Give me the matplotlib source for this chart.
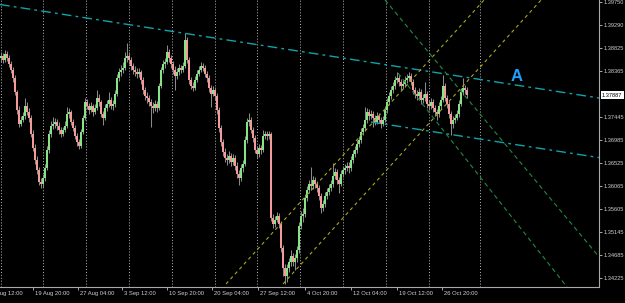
import matplotlib
matplotlib.use('Agg')
import matplotlib.pyplot as plt
import numpy as np
from matplotlib.transforms import blended_transform_factory

# ---------------- OHLC data (H4 bars) ----------------
opens = [
1.3863, 1.3867, 1.3859, 1.3871, 1.3863, 1.3851, 1.3839, 1.3823, 1.3795, 1.3759,
1.3731, 1.3739, 1.3747, 1.3767, 1.3755, 1.3743, 1.3711, 1.3683, 1.3659, 1.3639,
1.3615, 1.3611, 1.3623, 1.3643, 1.3679, 1.3711, 1.3727, 1.3731, 1.3735, 1.3727,
1.3719, 1.3711, 1.3719, 1.3727, 1.3751, 1.3755, 1.3735, 1.3723, 1.3707, 1.3695,
1.3687, 1.3715, 1.3743, 1.3775, 1.3767, 1.3759, 1.3767, 1.3755, 1.3763, 1.3783,
1.3775, 1.3751, 1.3743, 1.3763, 1.3771, 1.3779, 1.3767, 1.3771, 1.3791, 1.3823,
1.3835, 1.3839, 1.3843, 1.3863, 1.3867, 1.3859, 1.3847, 1.3839, 1.3835, 1.3831,
1.3835, 1.3819, 1.3799, 1.3787, 1.3783, 1.3775, 1.3767, 1.3763, 1.3771, 1.3763,
1.3807, 1.3839, 1.3851, 1.3855, 1.3875, 1.3863, 1.3851, 1.3839, 1.3827, 1.3835,
1.3843, 1.3839, 1.3847, 1.3899, 1.3859, 1.3819, 1.3807, 1.3803, 1.3819, 1.3831,
1.3839, 1.3847, 1.3843, 1.3831, 1.3823, 1.3803, 1.3791, 1.3799, 1.3787, 1.3759,
1.3723, 1.3695, 1.3675, 1.3663, 1.3659, 1.3667, 1.3655, 1.3663, 1.3647, 1.3631,
1.3623, 1.3643, 1.3651, 1.3699, 1.3735, 1.3739, 1.3719, 1.3703, 1.3679, 1.3671,
1.3683, 1.3679, 1.3707, 1.3711, 1.3707, 1.3711, 1.3543, 1.3531, 1.3539, 1.3547,
1.3531, 1.3483, 1.3443, 1.3427, 1.3443, 1.3455, 1.3467, 1.3455, 1.3463, 1.3479,
1.3527, 1.3547, 1.3551, 1.3583, 1.3599, 1.3611, 1.3607, 1.3619, 1.3611, 1.3603,
1.3587, 1.3563, 1.3571, 1.3587, 1.3595, 1.3603, 1.3611, 1.3627, 1.3635, 1.3619,
1.3611, 1.3631, 1.3639, 1.3643, 1.3647, 1.3643, 1.3659, 1.3671, 1.3679, 1.3691,
1.3699, 1.3715, 1.3723, 1.3739, 1.3755, 1.3747, 1.3751, 1.3743, 1.3735, 1.3747,
1.3739, 1.3731, 1.3739, 1.3759, 1.3775, 1.3787, 1.3799, 1.3807, 1.3819, 1.3823,
1.3815, 1.3807, 1.3811, 1.3819, 1.3823, 1.3827, 1.3815, 1.3799, 1.3791, 1.3787,
1.3795, 1.3779, 1.3783, 1.3791, 1.3771, 1.3767, 1.3775, 1.3763, 1.3755, 1.3751,
1.3767, 1.3779, 1.3807, 1.3783, 1.3771, 1.3751, 1.3731, 1.3739, 1.3743, 1.3751,
1.3771, 1.3795, 1.3803, 1.3799]

closes = [
1.3867, 1.3859, 1.3871, 1.3863, 1.3851, 1.3839, 1.3823, 1.3795, 1.3759, 1.3731,
1.3739, 1.3747, 1.3767, 1.3755, 1.3743, 1.3711, 1.3683, 1.3659, 1.3639, 1.3615,
1.3611, 1.3623, 1.3643, 1.3679, 1.3711, 1.3727, 1.3731, 1.3735, 1.3727, 1.3719,
1.3711, 1.3719, 1.3727, 1.3751, 1.3755, 1.3735, 1.3723, 1.3707, 1.3695, 1.3687,
1.3715, 1.3743, 1.3775, 1.3767, 1.3759, 1.3767, 1.3755, 1.3763, 1.3783, 1.3775,
1.3751, 1.3743, 1.3763, 1.3771, 1.3779, 1.3767, 1.3771, 1.3791, 1.3823, 1.3835,
1.3839, 1.3843, 1.3863, 1.3867, 1.3859, 1.3847, 1.3839, 1.3835, 1.3831, 1.3835,
1.3819, 1.3799, 1.3787, 1.3783, 1.3775, 1.3767, 1.3763, 1.3771, 1.3763, 1.3807,
1.3839, 1.3851, 1.3855, 1.3875, 1.3863, 1.3851, 1.3839, 1.3827, 1.3835, 1.3843,
1.3839, 1.3847, 1.3899, 1.3859, 1.3819, 1.3807, 1.3803, 1.3819, 1.3831, 1.3839,
1.3847, 1.3843, 1.3831, 1.3823, 1.3803, 1.3791, 1.3799, 1.3787, 1.3759, 1.3723,
1.3695, 1.3675, 1.3663, 1.3659, 1.3667, 1.3655, 1.3663, 1.3647, 1.3631, 1.3623,
1.3643, 1.3651, 1.3699, 1.3735, 1.3739, 1.3719, 1.3703, 1.3679, 1.3671, 1.3683,
1.3679, 1.3707, 1.3711, 1.3707, 1.3711, 1.3543, 1.3531, 1.3539, 1.3547, 1.3531,
1.3483, 1.3443, 1.3427, 1.3443, 1.3455, 1.3467, 1.3455, 1.3463, 1.3479, 1.3527,
1.3547, 1.3551, 1.3583, 1.3599, 1.3611, 1.3607, 1.3619, 1.3611, 1.3603, 1.3587,
1.3563, 1.3571, 1.3587, 1.3595, 1.3603, 1.3611, 1.3627, 1.3635, 1.3619, 1.3611,
1.3631, 1.3639, 1.3643, 1.3647, 1.3643, 1.3659, 1.3671, 1.3679, 1.3691, 1.3699,
1.3715, 1.3723, 1.3739, 1.3755, 1.3747, 1.3751, 1.3743, 1.3735, 1.3747, 1.3739,
1.3731, 1.3739, 1.3759, 1.3775, 1.3787, 1.3799, 1.3807, 1.3819, 1.3823, 1.3815,
1.3807, 1.3811, 1.3819, 1.3823, 1.3827, 1.3815, 1.3799, 1.3791, 1.3787, 1.3795,
1.3779, 1.3783, 1.3791, 1.3771, 1.3767, 1.3775, 1.3763, 1.3755, 1.3751, 1.3767,
1.3779, 1.3807, 1.3783, 1.3771, 1.3751, 1.3731, 1.3739, 1.3743, 1.3751, 1.3771,
1.3795, 1.3803, 1.3799, 1.37887]

highs = [
1.3875, 1.3873, 1.3879, 1.3877, 1.3869, 1.3857, 1.3845, 1.3829, 1.3799, 1.3767,
1.3747, 1.3755, 1.3783, 1.3775, 1.3763, 1.3749, 1.3719, 1.3691, 1.3667, 1.3645,
1.3623, 1.3631, 1.3651, 1.3687, 1.3719, 1.3737, 1.3745, 1.3743, 1.3741, 1.3735,
1.3725, 1.3725, 1.3737, 1.3765, 1.3763, 1.3759, 1.3741, 1.3729, 1.3713, 1.3701,
1.3721, 1.3749, 1.3783, 1.3781, 1.3773, 1.3775, 1.3771, 1.3771, 1.3799, 1.3791,
1.3779, 1.3757, 1.3771, 1.3779, 1.3795, 1.3785, 1.3779, 1.3799, 1.3831, 1.3843,
1.3849, 1.3855, 1.3875, 1.3893, 1.3875, 1.3865, 1.3853, 1.3847, 1.3843, 1.3843,
1.3839, 1.3825, 1.3805, 1.3795, 1.3789, 1.3781, 1.3775, 1.3779, 1.3777, 1.3813,
1.3845, 1.3859, 1.3863, 1.3889, 1.3881, 1.3869, 1.3857, 1.3847, 1.3843, 1.3851,
1.3849, 1.3855, 1.3913, 1.3905, 1.3865, 1.3825, 1.3815, 1.3827, 1.3839, 1.3847,
1.3855, 1.3853, 1.3849, 1.3837, 1.3829, 1.3809, 1.3807, 1.3805, 1.3793, 1.3765,
1.3729, 1.3701, 1.3683, 1.3671, 1.3677, 1.3673, 1.3671, 1.3669, 1.3655, 1.3639,
1.3651, 1.3659, 1.3707, 1.3743, 1.3753, 1.3745, 1.3725, 1.3709, 1.3687, 1.3691,
1.3689, 1.3719, 1.3717, 1.3717, 1.3717, 1.3715, 1.3551, 1.3547, 1.3555, 1.3553,
1.3537, 1.3489, 1.3451, 1.3451, 1.3463, 1.3479, 1.3473, 1.3471, 1.3487, 1.3535,
1.3557, 1.3563, 1.3591, 1.3607, 1.3619, 1.3645, 1.3627, 1.3625, 1.3617, 1.3609,
1.3593, 1.3579, 1.3595, 1.3603, 1.3611, 1.3619, 1.3653, 1.3643, 1.3641, 1.3625,
1.3639, 1.3647, 1.3651, 1.3655, 1.3655, 1.3667, 1.3679, 1.3687, 1.3699, 1.3707,
1.3723, 1.3731, 1.3765, 1.3763, 1.3761, 1.3759, 1.3757, 1.3749, 1.3755, 1.3753,
1.3745, 1.3747, 1.3767, 1.3783, 1.3795, 1.3807, 1.3815, 1.3827, 1.3835, 1.3829,
1.3821, 1.3819, 1.3827, 1.3831, 1.3835, 1.3833, 1.3821, 1.3805, 1.3799, 1.3803,
1.3801, 1.3791, 1.3815, 1.3797, 1.3779, 1.3783, 1.3781, 1.3769, 1.3761, 1.3775,
1.3787, 1.3829, 1.3813, 1.3789, 1.3777, 1.3757, 1.3747, 1.3751, 1.3759, 1.3779,
1.3803, 1.3823, 1.3809, 1.3805]

lows = [
1.3855, 1.3853, 1.3855, 1.3857, 1.3845, 1.3833, 1.3815, 1.3789, 1.3751, 1.3725,
1.3727, 1.3735, 1.3741, 1.3749, 1.3735, 1.3705, 1.3677, 1.3651, 1.3631, 1.3609,
1.3603, 1.3605, 1.3617, 1.3639, 1.3673, 1.3705, 1.3721, 1.3723, 1.3719, 1.3711,
1.3705, 1.3707, 1.3715, 1.3723, 1.3743, 1.3729, 1.3717, 1.3701, 1.3687, 1.3681,
1.3683, 1.3711, 1.3739, 1.3761, 1.3751, 1.3755, 1.3747, 1.3751, 1.3759, 1.3767,
1.3745, 1.3729, 1.3739, 1.3757, 1.3765, 1.3761, 1.3759, 1.3765, 1.3787, 1.3817,
1.3827, 1.3833, 1.3839, 1.3855, 1.3851, 1.3839, 1.3831, 1.3827, 1.3823, 1.3825,
1.3811, 1.3791, 1.3779, 1.3773, 1.3767, 1.3725, 1.3753, 1.3757, 1.3755, 1.3759,
1.3803, 1.3833, 1.3843, 1.3851, 1.3855, 1.3843, 1.3831, 1.3799, 1.3821, 1.3829,
1.3833, 1.3835, 1.3843, 1.3853, 1.3811, 1.3801, 1.3797, 1.3799, 1.3815, 1.3827,
1.3835, 1.3837, 1.3825, 1.3815, 1.3795, 1.3765, 1.3787, 1.3779, 1.3751, 1.3715,
1.3687, 1.3667, 1.3655, 1.3649, 1.3653, 1.3647, 1.3649, 1.3639, 1.3623, 1.3609,
1.3617, 1.3635, 1.3647, 1.3693, 1.3727, 1.3713, 1.3695, 1.3673, 1.3663, 1.3665,
1.3671, 1.3675, 1.3701, 1.3699, 1.3701, 1.3537, 1.3523, 1.3525, 1.3535, 1.3523,
1.3475, 1.3427, 1.3411, 1.3415, 1.3435, 1.3447, 1.3447, 1.3439, 1.3455, 1.3473,
1.3521, 1.3535, 1.3545, 1.3577, 1.3593, 1.3599, 1.3601, 1.3603, 1.3595, 1.3579,
1.3553, 1.3557, 1.3565, 1.3581, 1.3589, 1.3597, 1.3605, 1.3621, 1.3611, 1.3593,
1.3607, 1.3625, 1.3631, 1.3637, 1.3633, 1.3637, 1.3653, 1.3665, 1.3673, 1.3685,
1.3693, 1.3709, 1.3717, 1.3733, 1.3739, 1.3741, 1.3725, 1.3729, 1.3731, 1.3733,
1.3723, 1.3727, 1.3735, 1.3753, 1.3769, 1.3781, 1.3793, 1.3801, 1.3813, 1.3807,
1.3799, 1.3801, 1.3805, 1.3813, 1.3817, 1.3809, 1.3791, 1.3783, 1.3779, 1.3781,
1.3771, 1.3773, 1.3777, 1.3763, 1.3759, 1.3761, 1.3755, 1.3747, 1.3739, 1.3745,
1.3761, 1.3775, 1.3777, 1.3763, 1.3743, 1.3709, 1.3723, 1.3733, 1.3739, 1.3745,
1.3767, 1.3789, 1.3791, 1.3783]

# ---------------- axis labels ----------------
price_ticks = [1.39750, 1.39290, 1.38825, 1.38365, 1.37445, 1.36985, 1.36525,
               1.36065, 1.35605, 1.35145, 1.34685, 1.34225]
price_labels = ['1.39750', '1.39290', '1.38825', '1.38365', '1.37445', '1.36985',
                '1.36525', '1.36065', '1.35605', '1.35145', '1.34685', '1.34225']
time_tick_bars = [-7.5, 16, 38.5, 60.5, 83, 105.5, 128.5, 152, 175, 198, 220.5]
time_labels = ['12 Aug 12:00', '19 Aug 20:00', '27 Aug 04:00', '3 Sep 12:00',
               '10 Sep 20:00', '20 Sep 04:00', '27 Sep 12:00', '4 Oct 20:00',
               '12 Oct 04:00', '19 Oct 12:00', '26 Oct 20:00']
grid_bars = [-0.2, 21, 42.5, 64, 85.5, 107, 128, 149.5, 171, 192.5, 214, 239.5]
current_price = 1.37887
current_label = '1.37887'

# ---------------- trend lines (bar index, price) anchors ----------------
cyan_upper = ([-0.5, 299.0], [1.3970, 1.3783])
cyan_lower = ([185.0, 299.0], [1.3735, 1.36638])
yellow_a = ([112.5, 242.0], [1.3411, 1.3981])
yellow_b = ([141.0, 270.5], [1.3411, 1.3981])
green_1 = ([198.5, 283.0], [1.3833, 1.3405])
green_2 = ([192.0, 299.0], [1.3979, 1.34654])
label_a_pos = (258, 1.3826)

# ---------------- figure ----------------
W, H = 625, 303
fig = plt.figure(figsize=(W / 100, H / 100), dpi=100, facecolor='black')
ax = fig.add_axes([0, 16 / H, 599 / W, 287 / H], facecolor='black')
ax.set_xlim(-0.5, 299)
ax.set_ylim(1.3405, 1.3979)

axis_font = ['Liberation Sans', 'DejaVu Sans']
txt_col = '#d0d0d0'
fs_right = 4.1
fs_bottom = 4.2

# grid
for gb in grid_bars:
    ax.axvline(gb, color='#bdbdbd', lw=0.7, ls=(0, (1, 2)), zorder=1)

# candles
x = np.arange(len(closes))
o = np.array(opens); c = np.array(closes); h = np.array(highs); l = np.array(lows)
ax.vlines(x, l, h, color='#8a8a8a', lw=0.75, zorder=2)
up = c >= o
body_bottom = np.minimum(o, c)
body_h = np.maximum(np.abs(c - o), 0.00006)
ax.bar(x[up], body_h[up], bottom=body_bottom[up], width=0.85,
       color='#86e486', edgecolor='none', zorder=3)
ax.bar(x[~up], body_h[~up], bottom=body_bottom[~up], width=0.85,
       color='#f39a9a', edgecolor='none', zorder=3)

# trend lines
ax.plot(*cyan_upper, color='#11a3a8', lw=1.0, ls=(0, (7, 3, 2, 3)), zorder=4)
ax.plot(*cyan_lower, color='#11a3a8', lw=1.0, ls=(0, (7, 3, 2, 3)), zorder=4)
ax.plot(*yellow_a, color='#a8a820', lw=0.8, ls=(0, (3, 3)), zorder=4)
ax.plot(*yellow_b, color='#a8a820', lw=0.8, ls=(0, (3, 3)), zorder=4)
ax.plot(*green_1, color='#218a40', lw=0.8, ls=(0, (4, 3)), zorder=4)
ax.plot(*green_2, color='#218a40', lw=0.8, ls=(0, (4, 3)), zorder=4)

ax.text(label_a_pos[0], label_a_pos[1], 'A', color='#1e9fff', fontsize=12,
        fontweight='bold', family=['Liberation Sans', 'DejaVu Sans'],
        ha='center', va='center', zorder=5)

# axes styling
for s in ['top', 'left']:
    ax.spines[s].set_visible(False)
for s in ['right', 'bottom']:
    ax.spines[s].set_color('#a8a8a8')
    ax.spines[s].set_linewidth(0.8)

ax.yaxis.tick_right()
ax.set_yticks(price_ticks)
ax.set_yticklabels(price_labels)
ax.tick_params(axis='y', colors='#a8a8a8', length=2.2, width=0.7, pad=1.0,
               labelsize=fs_right, labelcolor=txt_col)
for t in ax.get_yticklabels():
    t.set_family(axis_font)

vis_ticks = [b for b in time_tick_bars if b >= -0.5]
ax.set_xticks(vis_ticks)
ax.set_xticklabels([])
ax.tick_params(axis='x', colors='#a8a8a8', length=2.5, width=0.7)

tr = blended_transform_factory(ax.transData, ax.transAxes)
for b, lab in zip(time_tick_bars, time_labels):
    ax.text(b + 1.0, -0.014, lab, transform=tr, ha='left', va='top',
            fontsize=fs_bottom, color=txt_col, family=axis_font, clip_on=False)

tr2 = blended_transform_factory(ax.transAxes, ax.transData)
ax.text(1.005, current_price, current_label, transform=tr2, ha='left', va='center',
        fontsize=fs_right, color='black', family=axis_font, clip_on=False,
        bbox=dict(boxstyle='square,pad=0.25', fc='white', ec='none'), zorder=6)

fig.savefig('out.png', dpi=100, facecolor='black')
